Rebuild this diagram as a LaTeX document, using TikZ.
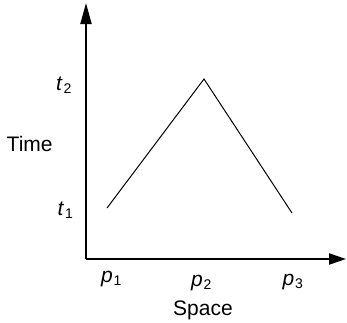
\documentclass[tikz,border=0pt]{standalone}
\usepackage{fontspec}
\setmainfont{Liberation Sans}
\usetikzlibrary{arrows.meta}
\newcommand\lbl[2]{\textit{#1}\kern0.8pt\raisebox{-3pt}{\fontsize{14}{14}\selectfont #2}}
\tikzset{
  axis/.style={line width=2pt},
  curve/.style={line width=1pt},
  txt/.style={inner sep=0pt, anchor=base west, font=\fontsize{21}{22}\selectfont}
}
\begin{document}
\begin{tikzpicture}[x=1pt,y=-1pt]
\useasboundingbox (0,0) rectangle (347,322);
\coordinate (o) at (86,259);
\coordinate (ytop) at (86,3);
\coordinate (xend) at (346,259);
\draw[axis,-{Triangle[length=21pt,width=11pt]}] (o) -- (ytop);
\draw[axis,-{Triangle[length=17pt,width=11pt]}] (o) -- (xend);
\coordinate (a) at (107,208);
\coordinate (b) at (204,79);
\coordinate (c) at (292,213);
\draw[curve] (a) -- (b) -- (c);
\node[txt] (time) at (6.5,151.5) {Time};
\node[txt] (t2) at (56,90) {\lbl{t}{2}};
\node[txt] (t1) at (57.5,215) {\lbl{t}{1}};
\node[txt] (p1) at (101,282) {\lbl{p}{1}};
\node[txt] (p2) at (191,286) {\lbl{p}{2}};
\node[txt] (p3) at (282.5,285) {\lbl{p}{3}};
\node[txt,anchor=base] (space) at (203,315) {Space};
\end{tikzpicture}
\end{document}
